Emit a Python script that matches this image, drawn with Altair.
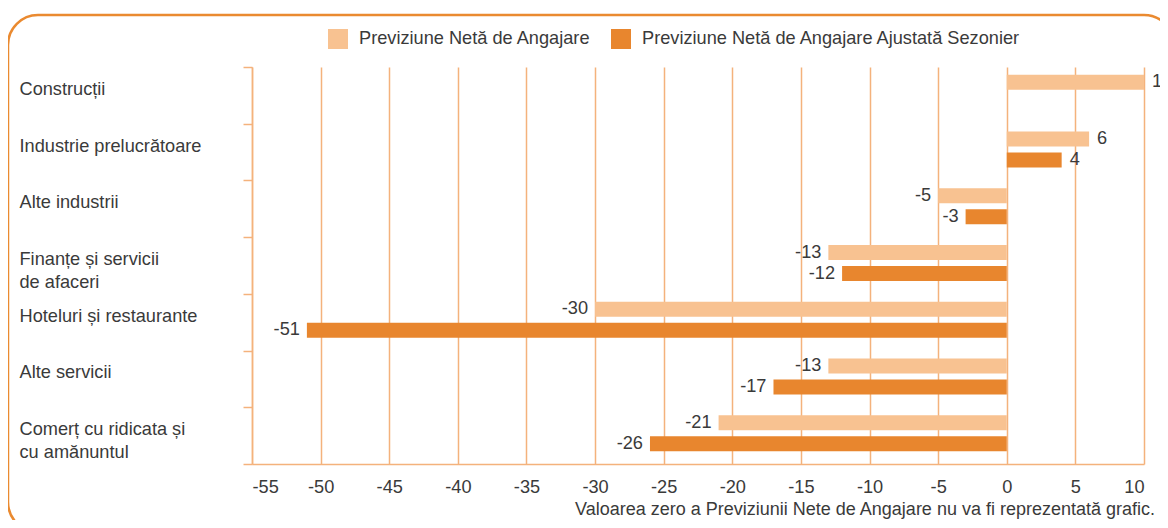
import altair as alt
import pandas as pd

categories = [
    "Construcții",
    "Industrie prelucrătoare",
    "Alte industrii",
    "Finanțe și servicii|de afaceri",
    "Hoteluri și restaurante",
    "Alte servicii",
    "Comerț cu ridicata și|cu amănuntul",
]
series = ["Previziune Netă de Angajare", "Previziune Netă de Angajare Ajustată Sezonier"]
net_values = [10, 6, -5, -13, -30, -13, -21]
adjusted_values = [0, 4, -3, -12, -51, -17, -26]
x_ticks = list(range(-55, 11, 5))
footnote = "Valoarea zero a Previziunii Nete de Angajare nu va fi reprezentată grafic."

LIGHT = "#F8C291"
DARK = "#E8862E"
GRID = "#F4B27C"
BORDER = "#EA8A30"
FONT = "Liberation Sans, Arial, sans-serif"
TXT = "#3a3a3a"
FS = 18.2

rows = []
for c, a, b in zip(categories, net_values, adjusted_values):
    rows.append({"cat": c, "series": series[0], "value": a})
    rows.append({"cat": c, "series": series[1], "value": b})
df = pd.DataFrame(rows)

W, H = 892, 397

y_enc = alt.Y(
    "cat:N",
    sort=categories,
    scale=alt.Scale(paddingInner=0, paddingOuter=0),
    axis=alt.Axis(
        title=None,
        labelExpr="split(datum.label, '|')",
        labelAlign="left",
        labelBaseline="middle",
        labelPadding=224,
        labelLimit=0,
        labelOffset=-6,
        labelLineHeight=23,
        labelFontSize=FS,
        labelColor=TXT,
        tickSize=9,
        tickColor=GRID,
        tickWidth=1.5,
        tickBand="extent",
        domainColor=GRID,
        domainWidth=1.5,
        grid=False,
    ),
)
yoff_enc = alt.YOffset(
    "series:N",
    sort=series,
    scale=alt.Scale(paddingInner=0.286, paddingOuter=0.493, align=0.38),
)
x_enc = alt.X(
    "value:Q",
    scale=alt.Scale(domain=[-55, 10], nice=False, zero=False),
    axis=alt.Axis(
        title=None,
        values=x_ticks,
        labelExpr="'' + datum.value",
        tickSize=0,
        labelPadding=14,
        labelFontSize=FS,
        labelColor=TXT,
        domainColor=GRID,
        domainWidth=1.5,
        grid=True,
        gridColor=GRID,
        gridWidth=1.5,
    ),
)

base = alt.Chart(df).transform_calculate(lbl="'' + datum.value")

bars = base.mark_bar().encode(
    x=x_enc,
    y=y_enc,
    yOffset=yoff_enc,
    color=alt.Color(
        "series:N",
        sort=series,
        scale=alt.Scale(domain=series, range=[LIGHT, DARK]),
        legend=alt.Legend(
            title=None,
            orient="none",
            direction="horizontal",
            legendX=76,
            legendY=-38,
            symbolType="square",
            symbolSize=400,
            symbolStrokeWidth=0,
            symbolOpacity=1,
            labelFontSize=FS,
            labelColor=TXT,
            labelOffset=11,
            labelLimit=0,
            columnPadding=20,
            padding=0,
        ),
    ),
)

pos_text = base.transform_filter("datum.value > 0").mark_text(
    align="left", baseline="middle", dx=8, fontSize=FS, color=TXT, font=FONT
).encode(x="value:Q", y=alt.Y("cat:N", sort=categories), yOffset=yoff_enc, text="lbl:N")

neg_text = base.transform_filter("datum.value < 0").mark_text(
    align="right", baseline="middle", dx=-7, fontSize=FS, color=TXT, font=FONT
).encode(x="value:Q", y=alt.Y("cat:N", sort=categories), yOffset=yoff_enc, text="lbl:N")

note_df = pd.DataFrame({"t": [footnote]})
note = alt.Chart(note_df).mark_text(
    align="right", baseline="middle", fontSize=18, color=TXT, font=FONT
).encode(x=alt.value(903), y=alt.value(443), text="t:N")

border = alt.Chart(note_df).mark_rect(
    filled=False, stroke=BORDER, strokeWidth=2.5, cornerRadius=30
).encode(x=alt.value(-244), x2=alt.value(922), y=alt.value(-52), y2=alt.value(465))

chart = alt.layer(border, bars, pos_text, neg_text, note).properties(
    width=W,
    height=H,
    autosize=alt.AutoSizeParams(type="none"),
    padding={"left": 244, "top": 59, "right": 16, "bottom": 56},
).configure_view(stroke=None).configure_axis(
    labelFont=FONT
).configure_legend(labelFont=FONT).configure_text(font=FONT)

chart.save("out.html", embed_options={"renderer": "svg", "actions": False})
